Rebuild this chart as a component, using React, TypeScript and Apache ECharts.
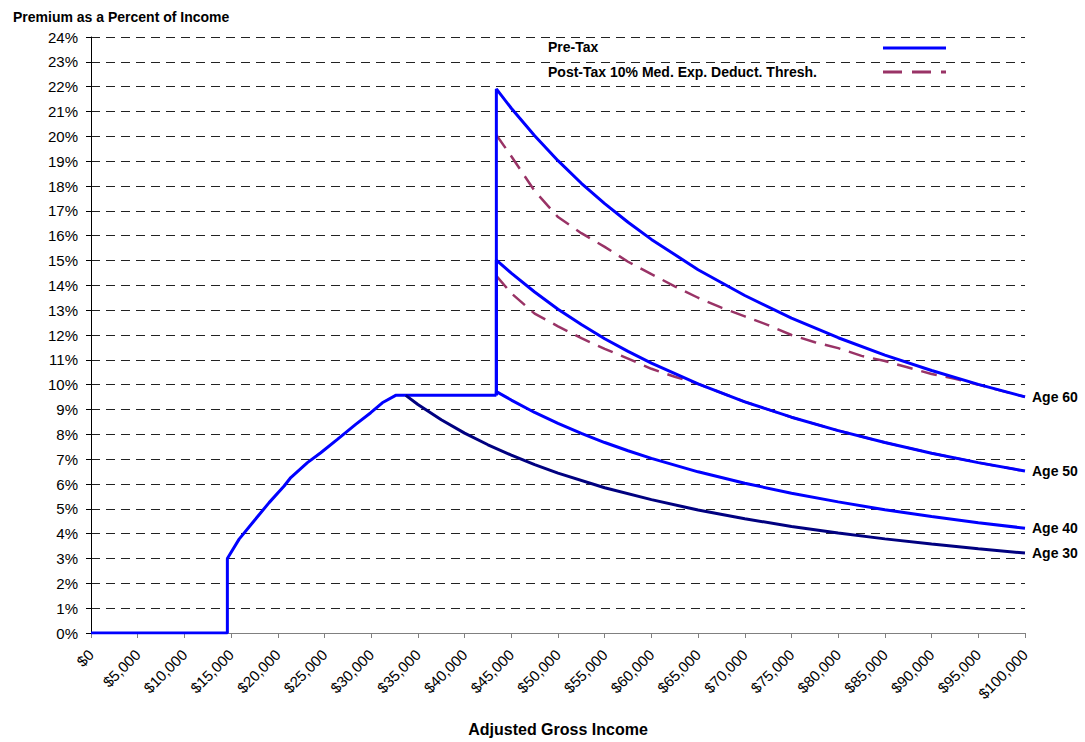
import React, { useEffect, useRef } from "react";
import * as echarts from "echarts";

// ---- Data ----
const xMin = 0;
const xMax = 100000;
const xStep = 5000;
const yMin = 0;
const yMax = 24;
const yStep = 1;

// Common pre-tax path for all ages (0 line, jump, sliding-scale ramp, 9.57% cap)
const rampIncome = [0, 14600, 14600, 15860, 17470, 19070, 20680, 21390, 23170, 24600, 26380, 28340, 29950, 31190, 32620, 43400];
const rampPct = [0, 0, 3.0, 3.78, 4.52, 5.25, 5.92, 6.26, 6.86, 7.26, 7.8, 8.4, 8.87, 9.27, 9.57, 9.57];

const jumpIncome = 43400;
const flatPct = 9.57;

const tailIncome = [43400, 45000, 47500, 50000, 52500, 55000, 57500, 60000, 65000, 70000, 75000, 80000, 85000, 90000, 95000, 100000];
const age60Pre = [21.91, 21.13, 20.02, 19.02, 18.11, 17.29, 16.54, 15.85, 14.63, 13.59, 12.68, 11.89, 11.19, 10.57, 10.01, 9.51];
const age50Pre = [15.02, 14.49, 13.73, 13.04, 12.42, 11.85, 11.34, 10.87, 10.03, 9.31, 8.69, 8.15, 7.67, 7.24, 6.86, 6.52];
const age40Pre = [9.72, 9.38, 8.88, 8.44, 8.04, 7.67, 7.34, 7.03, 6.49, 6.03, 5.63, 5.28, 4.96, 4.69, 4.44, 4.22];

const age30Income = [33700, 35000, 37500, 40000, 42500, 45000, 47500, 50000, 55000, 60000, 65000, 70000, 75000, 80000, 85000, 90000, 95000, 100000];
const age30Pre = [9.57, 9.2, 8.59, 8.05, 7.58, 7.16, 6.78, 6.44, 5.85, 5.37, 4.95, 4.6, 4.29, 4.03, 3.79, 3.58, 3.39, 3.22];

const post60Income = [43400, 45000, 47500, 50000, 52500, 55000, 57500, 60000, 62500, 65000, 67500, 70000, 72500, 75000, 77500, 80000, 82500, 85000, 87500, 90000, 92500, 95000, 97500, 100000];
const post60Pct = [20.05, 19.2, 17.8, 16.75, 16.1, 15.55, 14.95, 14.45, 13.96, 13.5, 13.1, 12.75, 12.4, 12.0, 11.71, 11.47, 11.16, 10.95, 10.69, 10.43, 10.24, 10.0, 9.75, 9.51];

const post50Income = [43400, 45000, 47500, 50000, 52500, 55000, 57500, 60000, 62500, 65000, 70000, 75000, 80000, 85000, 90000, 95000, 100000];
const post50Pct = [14.38, 13.68, 12.86, 12.35, 11.87, 11.44, 11.05, 10.64, 10.32, 10.03, 9.31, 8.69, 8.15, 7.67, 7.24, 6.86, 6.52];

const titleText = "Premium as a Percent of Income";
const xAxisTitle = "Adjusted Gross Income";
const legendPre = "Pre-Tax";
const legendPost = "Post-Tax 10% Med. Exp. Deduct. Thresh.";
const ageLabels = ["Age 60", "Age 50", "Age 40", "Age 30"];

// ---- Styles ----
const FONT = "'Liberation Sans', Arial, Helvetica, sans-serif";
const BLUE = "#0000FF";
const NAVY = "#000080";
const MAROON = "#993366";

const zip = (xs: number[], ys: number[]) => xs.map((x, i) => [x, ys[i]]);

const fmtMoney = (v: number) => "$" + String(Math.round(v)).replace(/\B(?=(\d{3})+(?!\d))/g, ",");

export default function App() {
  const ref = useRef<HTMLDivElement>(null);

  useEffect(() => {
    document.body.style.margin = "0";
    if (!ref.current) return;
    const chart = echarts.init(ref.current, null, { renderer: "svg" });

    const endLabel = (text: string) => ({
      show: true,
      formatter: text,
      color: "#000",
      fontWeight: "bold" as const,
      fontSize: 14,
      fontFamily: FONT,
      distance: 7,
    });

    const preLine = (color: string) => ({ color, width: 3 });

    chart.setOption({
      animation: false,
      textStyle: { fontFamily: FONT },
      title: {
        text: titleText,
        left: 8,
        top: 5,
        textStyle: { fontSize: 14, fontWeight: "bold", color: "#000", fontFamily: FONT },
      },
      grid: { left: 91, right: 60, top: 37, bottom: 108 },
      xAxis: {
        type: "value",
        min: xMin,
        max: xMax,
        interval: xStep,
        name: xAxisTitle,
        nameLocation: "middle",
        nameGap: 88,
        nameTextStyle: { fontSize: 16, fontWeight: "bold", color: "#000", fontFamily: FONT },
        axisLine: { show: true, lineStyle: { color: "#808080", width: 1 } },
        axisTick: { show: true, length: 5, lineStyle: { color: "#808080" } },
        axisLabel: {
          rotate: 45,
          fontSize: 15,
          color: "#000",
          margin: 19,
          fontFamily: FONT,
          formatter: (v: number) => fmtMoney(v),
        },
        splitLine: { show: false },
      },
      yAxis: {
        type: "value",
        min: yMin,
        max: yMax,
        interval: yStep,
        axisLine: { show: true, lineStyle: { color: "#000", width: 1 } },
        axisTick: { show: true, length: 5, lineStyle: { color: "#000" } },
        axisLabel: {
          fontSize: 15,
          color: "#000",
          margin: 13,
          fontFamily: FONT,
          formatter: (v: number) => v + "%",
        },
        splitLine: { show: true, lineStyle: { color: "#222", type: [9, 6], width: 1 } },
      },
      graphic: [
        {
          type: "text",
          left: 548,
          top: 40,
          style: { text: legendPre, fill: "#000", font: `bold 14px ${FONT}` },
        },
        {
          type: "line",
          shape: { x1: 883, y1: 48, x2: 946, y2: 48 },
          style: { stroke: BLUE, lineWidth: 3 },
        },
        {
          type: "text",
          left: 548,
          top: 65,
          style: { text: legendPost, fill: "#000", font: `bold 14px ${FONT}` },
        },
        {
          type: "line",
          shape: { x1: 883, y1: 72, x2: 946, y2: 72 },
          style: { stroke: MAROON, lineWidth: 3, lineDash: [19, 10] },
        },
      ],
      series: [
        {
          name: legendPost,
          type: "line",
          showSymbol: false,
          z: 2,
          lineStyle: { color: MAROON, width: 2.5, type: [16, 9] },
          data: zip(post60Income, post60Pct),
        },
        {
          name: legendPost,
          type: "line",
          showSymbol: false,
          z: 2,
          lineStyle: { color: MAROON, width: 2.5, type: [16, 9] },
          data: zip(post50Income, post50Pct),
        },
        {
          name: legendPre,
          type: "line",
          showSymbol: false,
          z: 3,
          lineStyle: preLine(BLUE),
          data: zip(rampIncome, rampPct),
        },
        {
          name: legendPre,
          type: "line",
          showSymbol: false,
          z: 3,
          lineStyle: preLine(BLUE),
          data: [[jumpIncome, flatPct], ...zip(tailIncome, age60Pre)],
          endLabel: endLabel(ageLabels[0]),
        },
        {
          name: legendPre,
          type: "line",
          showSymbol: false,
          z: 3,
          lineStyle: preLine(BLUE),
          data: [[jumpIncome, flatPct], ...zip(tailIncome, age50Pre)],
          endLabel: endLabel(ageLabels[1]),
        },
        {
          name: legendPre,
          type: "line",
          showSymbol: false,
          z: 3,
          lineStyle: preLine(BLUE),
          data: [[jumpIncome, flatPct], ...zip(tailIncome, age40Pre)],
          endLabel: endLabel(ageLabels[2]),
        },
        {
          name: legendPre,
          type: "line",
          showSymbol: false,
          z: 3,
          lineStyle: preLine(NAVY),
          data: zip(age30Income, age30Pre),
          endLabel: endLabel(ageLabels[3]),
        },
      ],
    });

    return () => chart.dispose();
  }, []);

  return <div ref={ref} style={{ width: 1085, height: 742, background: "#fff" }} />;
}
